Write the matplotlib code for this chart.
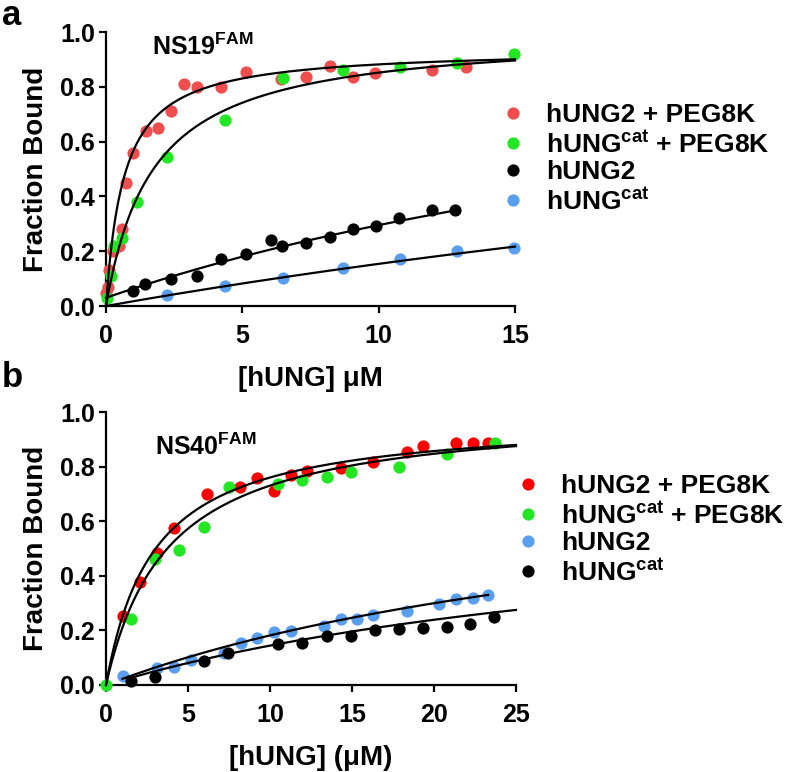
import numpy as np
import matplotlib
matplotlib.use("Agg")
import matplotlib.pyplot as plt
from matplotlib.lines import Line2D

plt.rcParams['font.family'] = ['Liberation Sans', 'DejaVu Sans']
plt.rcParams['font.weight'] = 'bold'
plt.rcParams['mathtext.fontset'] = 'custom'
plt.rcParams['mathtext.rm'] = 'Liberation Sans:bold'
plt.rcParams['mathtext.bf'] = 'Liberation Sans:bold'
plt.rcParams['mathtext.it'] = 'Liberation Sans:bold'

# ---------------- Panel a (NS19FAM) ----------------
a_title = "NS19$^{\\mathbf{FAM}}$"
a_labels = ["hUNG2 + PEG8K", "hUNG$^{\\mathbf{cat}}$ + PEG8K", "hUNG2", "hUNG$^{\\mathbf{cat}}$"]
a_colors = ["#F04E4E", "#22E622", "#000000", "#5A9EF0"]

a_red_x = [0.0, 0.09, 0.12, 0.24, 0.49, 0.57, 0.73, 0.98, 1.46, 1.91, 2.38, 2.87, 3.32, 4.23, 5.12, 6.4, 7.35, 8.2, 9.05, 9.88, 11.95, 13.2]
a_red_y = [0.046, 0.07, 0.13, 0.20, 0.22, 0.28, 0.45, 0.56, 0.64, 0.65, 0.71, 0.81, 0.80, 0.80, 0.855, 0.83, 0.835, 0.877, 0.835, 0.85, 0.86, 0.873]
a_green_x = [0.05, 0.18, 0.30, 0.57, 1.12, 2.22, 4.37, 6.5, 8.68, 10.8, 12.87, 14.98]
a_green_y = [0.03, 0.11, 0.22, 0.25, 0.38, 0.545, 0.68, 0.833, 0.86, 0.873, 0.888, 0.92]
a_black_x = [0.98, 1.44, 2.38, 3.32, 4.23, 5.12, 6.04, 6.46, 7.34, 8.2, 9.05, 9.9, 10.76, 11.95, 12.8]
a_black_y = [0.055, 0.08, 0.097, 0.11, 0.17, 0.19, 0.24, 0.22, 0.23, 0.253, 0.28, 0.293, 0.322, 0.35, 0.35]
a_blue_x = [2.22, 4.37, 6.5, 8.68, 10.8, 12.87, 14.98]
a_blue_y = [0.04, 0.074, 0.103, 0.137, 0.17, 0.20, 0.213]

# one-site binding fits: (offset, Bmax, Kd, xmin, xmax)
a_fits = [(0.0, 0.94, 0.66, 0.0, 15.0),
          (0.0, 1.00, 1.74, 0.0, 15.0),
          (0.03, 1.14, 33.0, 0.0, 12.8),
          (0.0, 1.20, 68.0, 0.0, 15.0)]

# ---------------- Panel b (NS40FAM) ----------------
b_title = "NS40$^{\\mathbf{FAM}}$"
b_labels = ["hUNG2 + PEG8K", "hUNG$^{\\mathbf{cat}}$ + PEG8K", "hUNG2", "hUNG$^{\\mathbf{cat}}$"]
b_colors = ["#FF0000", "#22E622", "#5A9EF0", "#000000"]

b_red_x = [1.02, 2.07, 3.13, 4.15, 6.14, 8.17, 9.23, 10.24, 11.26, 12.28, 14.3, 16.3, 18.33, 19.3, 21.34, 22.36, 23.3]
b_red_y = [0.253, 0.378, 0.482, 0.574, 0.70, 0.724, 0.757, 0.712, 0.768, 0.784, 0.796, 0.817, 0.855, 0.875, 0.888, 0.885, 0.888]
b_green_x = [0.0, 1.5, 2.99, 4.47, 5.98, 7.52, 10.5, 11.93, 13.45, 14.92, 17.89, 20.77, 23.72]
b_green_y = [0.0, 0.242, 0.46, 0.495, 0.58, 0.724, 0.736, 0.751, 0.763, 0.779, 0.797, 0.846, 0.885]
b_blue_x = [1.02, 3.13, 4.15, 5.16, 7.2, 8.21, 9.23, 10.24, 11.26, 13.29, 14.3, 15.28, 16.3, 18.33, 20.33, 21.34, 22.36, 23.3]
b_blue_y = [0.033, 0.061, 0.067, 0.092, 0.116, 0.155, 0.171, 0.193, 0.199, 0.217, 0.242, 0.243, 0.256, 0.271, 0.297, 0.315, 0.32, 0.33]
b_black_x = [1.5, 2.99, 5.98, 7.46, 10.5, 11.93, 13.45, 14.92, 16.4, 17.89, 19.3, 20.77, 22.19, 23.68]
b_black_y = [0.015, 0.03, 0.089, 0.116, 0.149, 0.155, 0.18, 0.18, 0.20, 0.205, 0.208, 0.214, 0.222, 0.25]

b_fits = [(0.0, 0.982, 2.92, 0.0, 25.0),
          (0.0, 1.008, 3.8, 0.0, 25.0),
          (0.0, 0.854, 37.0, 1.0, 23.3),
          (0.0, 0.693, 38.0, 1.5, 25.0)]

a_xticks = [0, 5, 10, 15]
b_xticks = [0, 5, 10, 15, 20, 25]
yticks = [0.0, 0.2, 0.4, 0.6, 0.8, 1.0]

W, H = 800, 772
fig = plt.figure(figsize=(W / 100, H / 100), dpi=100)

def px_rect(l, r, t, b):
    return [l / W, 1 - b / H, (r - l) / W, (b - t) / H]

ax_a = fig.add_axes(px_rect(106, 515, 32, 306))
ax_b = fig.add_axes(px_rect(106, 516, 412, 685))

def draw(ax, series, colors, labels, fits, xmax, xticks, title, tx, ty, xlabel, leg_anchor):
    for (xs, ys), c in zip(series, colors):
        ax.plot(xs, ys, 'o', color=c, ms=8.8, mec='none', clip_on=False, zorder=3)
    for (y0, bm, kd, x0, x1) in fits:
        xx = np.linspace(x0, x1, 300)
        ax.plot(xx, y0 + bm * xx / (kd + xx), color='black', lw=1.6, zorder=4, clip_on=False)
    ax.set_xlim(0, xmax)
    ax.set_ylim(0, 1.0)
    ax.set_xticks(xticks)
    ax.set_yticks(yticks)
    ax.set_yticklabels([f"{v:.1f}" for v in yticks])
    for s in ['top', 'right']:
        ax.spines[s].set_visible(False)
    for s in ['left', 'bottom']:
        ax.spines[s].set_linewidth(1.6)
    ax.tick_params(direction='out', length=5, width=1.6, labelsize=18)
    ax.tick_params(axis='x', pad=8)
    ax.tick_params(axis='y', pad=3)
    ax.set_ylabel("Fraction Bound", fontsize=20, fontweight='bold', labelpad=8)
    ax.set_xlabel(xlabel, fontsize=20, fontweight='bold', labelpad=13)
    ax.text(tx, ty, title, transform=ax.transAxes, fontsize=18, fontweight='bold', va='baseline')
    handles = [Line2D([], [], marker='o', ls='none', color=c, ms=8.8, mec='none') for c in colors]
    ax.legend(handles, labels, loc='upper left', bbox_to_anchor=leg_anchor,
              bbox_transform=fig.transFigure, frameon=False, fontsize=19,
              handlelength=0.6, handletextpad=0.95, labelspacing=0.12, borderpad=0,
              borderaxespad=0)

draw(ax_a, [(a_red_x, a_red_y), (a_green_x, a_green_y), (a_black_x, a_black_y), (a_blue_x, a_blue_y)],
     a_colors, a_labels, a_fits, 15, a_xticks, a_title, 0.112, 0.916, "[hUNG] \u03bcM",
     (505 / W, 1 - 103 / H))
draw(ax_b, [(b_red_x, b_red_y), (b_green_x, b_green_y), (b_blue_x, b_blue_y), (b_black_x, b_black_y)],
     b_colors, b_labels, b_fits, 25, b_xticks, b_title, 0.12, 0.842, "[hUNG] (\u03bcM)",
     (520 / W, 1 - 474 / H))

fig.text(2 / W, 1 - 25 / H, "a", fontsize=25, fontweight='bold', va='baseline')
fig.text(2 / W, 1 - 387 / H, "b", fontsize=25, fontweight='bold', va='baseline')

fig.savefig("out.png", dpi=100)
